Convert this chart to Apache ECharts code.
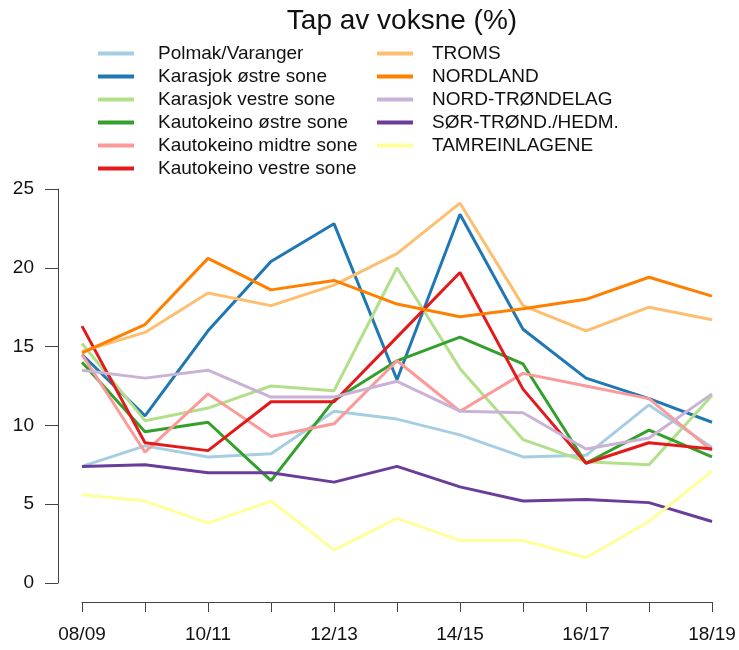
<!DOCTYPE html>
<html>
<head>
<meta charset="utf-8">
<script src="https://cdn.jsdelivr.net/npm/echarts@6/dist/echarts.min.js"></script>
<style>
  html, body { margin: 0; padding: 0; background: #fff; }
  #chart { width: 739px; height: 650px; }
</style>
</head>
<body>
<div id="chart"></div>
<script>
// sesonger
const seasons = ["08/09", "09/10", "10/11", "11/12", "12/13", "13/14", "14/15", "15/16", "16/17", "17/18", "18/19"];

const polmak        = [7.4, 8.7, 8.0, 8.2, 10.9, 10.4, 9.4, 8.0, 8.1, 11.3, 8.6];
const karasjokOst   = [14.5, 10.6, 16.0, 20.4, 22.8, 12.9, 23.4, 16.1, 13.0, 11.7, 10.2];
const karasjokVest  = [15.2, 10.3, 11.1, 12.5, 12.2, 20.0, 13.6, 9.1, 7.7, 7.5, 11.9];
const kautoOst      = [14.0, 9.6, 10.2, 6.5, 11.6, 14.1, 15.6, 13.9, 7.6, 9.7, 8.0];
const kautoMidt     = [14.5, 8.3, 12.0, 9.3, 10.1, 14.1, 10.9, 13.3, 12.5, 11.7, 8.4];
const kautoVest     = [16.3, 8.9, 8.4, 11.5, 11.5, 15.6, 19.7, 12.3, 7.6, 8.9, 8.5];
const troms         = [14.7, 15.9, 18.4, 17.6, 18.9, 20.9, 24.1, 17.6, 16.0, 17.5, 16.7];
const nordland      = [14.6, 16.4, 20.6, 18.6, 19.2, 17.7, 16.9, 17.4, 18.0, 19.4, 18.2];
const nordTrondelag = [13.5, 13.0, 13.5, 11.8, 11.8, 12.8, 10.9, 10.8, 8.5, 9.2, 12.0];
const sorTrondHedm  = [7.4, 7.5, 7.0, 7.0, 6.4, 7.4, 6.1, 5.2, 5.3, 5.1, 3.9];
const tamrein       = [5.6, 5.2, 3.8, 5.2, 2.1, 4.1, 2.7, 2.7, 1.6, 3.9, 7.1];

const leftNames  = ["Polmak/Varanger", "Karasjok østre sone", "Karasjok vestre sone",
                    "Kautokeino østre sone", "Kautokeino midtre sone", "Kautokeino vestre sone"];
const rightNames = ["TROMS", "NORDLAND", "NORD-TRØNDELAG", "SØR-TRØND./HEDM.", "TAMREINLAGENE"];

const seriesDefs = [
  ["Polmak/Varanger", polmak, "#a6cee3"],
  ["Karasjok østre sone", karasjokOst, "#1f78b4"],
  ["Karasjok vestre sone", karasjokVest, "#b2df8a"],
  ["Kautokeino østre sone", kautoOst, "#33a02c"],
  ["Kautokeino midtre sone", kautoMidt, "#fb9a99"],
  ["Kautokeino vestre sone", kautoVest, "#e31a1c"],
  ["TROMS", troms, "#fdbf6f"],
  ["NORDLAND", nordland, "#ff7f00"],
  ["NORD-TRØNDELAG", nordTrondelag, "#cab2d6"],
  ["SØR-TRØND./HEDM.", sorTrondHedm, "#6a3d9a"],
  ["TAMREINLAGENE", tamrein, "#ffff99"]
];

const font = "Liberation Sans, Arial, sans-serif";

function legendAt(names, left, textGap) {
  return {
    data: names,
    left: left,
    top: 39,
    orient: "vertical",
    icon: "rect",
    itemWidth: 36,
    itemHeight: 4,
    itemGap: 4,
    textStyle: { fontFamily: font, fontSize: 19, color: "#111", lineHeight: 19, padding: [0, 0, 0, textGap] }
  };
}

const chart = echarts.init(document.getElementById("chart"));
chart.setOption({
  animation: false,
  title: {
    text: "Tap av voksne (%)",
    left: 397, textAlign: "center", top: 2,
    textStyle: { fontFamily: font, fontSize: 28, fontWeight: "normal", color: "#111" }
  },
  legend: [
    legendAt(leftNames, 93, 19),
    legendAt(rightNames, 372, 14)
  ],
  grid: { left: 82, right: 27, top: 189, bottom: 67 },
  xAxis: {
    type: "category",
    data: seasons,
    boundaryGap: false,
    offset: 19,
    axisLine: { onZero: false, lineStyle: { color: "#444", width: 1 } },
    axisTick: { interval: 0, length: 10, lineStyle: { color: "#444" } },
    axisLabel: { interval: 1, margin: 23, fontFamily: font, fontSize: 19, color: "#111" },
    splitLine: { show: false }
  },
  yAxis: {
    type: "value",
    min: 0, max: 25, interval: 5,
    offset: 24,
    axisLine: { show: true, lineStyle: { color: "#444", width: 1 } },
    axisTick: { show: true, length: 13, lineStyle: { color: "#444" } },
    axisLabel: { margin: 24, fontFamily: font, fontSize: 19, color: "#111" },
    splitLine: { show: false }
  },
  series: seriesDefs.map(([name, values, color]) => ({
    name: name,
    type: "line",
    data: values,
    symbol: "none",
    lineStyle: { color: color, width: 3 },
    itemStyle: { color: color }
  }))
});
</script>
</body>
</html>
